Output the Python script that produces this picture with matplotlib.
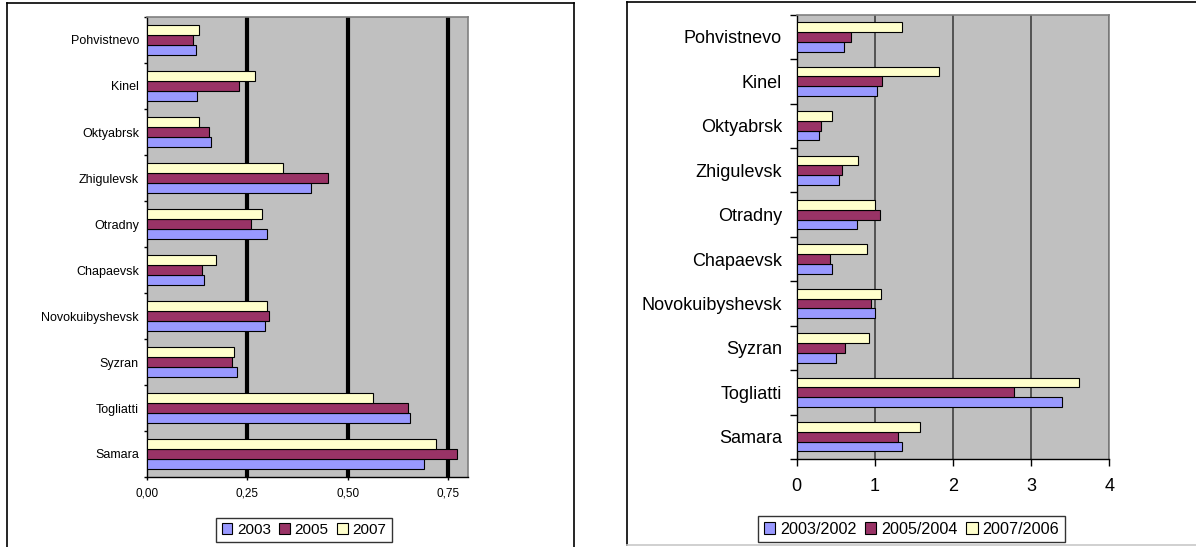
import numpy as np
import matplotlib
matplotlib.use('Agg')
import matplotlib.pyplot as plt
from matplotlib.patches import Patch
from matplotlib.lines import Line2D

plt.rcParams['font.family'] = ['Liberation Sans', 'DejaVu Sans']

# cities from bottom to top
cities = ['Samara', 'Togliatti', 'Syzran', 'Novokuibyshevsk', 'Chapaevsk',
          'Otradny', 'Zhigulevsk', 'Oktyabrsk', 'Kinel', 'Pohvistnevo']

# left chart - shares by year
v2003 = [0.690, 0.656, 0.224, 0.293, 0.143, 0.298, 0.408, 0.159, 0.124, 0.121]
v2005 = [0.773, 0.650, 0.211, 0.303, 0.138, 0.259, 0.451, 0.154, 0.229, 0.115]
v2007 = [0.720, 0.563, 0.216, 0.298, 0.173, 0.286, 0.338, 0.129, 0.268, 0.129]
left_labels = ['2003', '2005', '2007']
left_ticks = [0, 0.25, 0.5, 0.75]
left_ticklabels = ['0,00', '0,25', '0,50', '0,75']

# right chart - year on year ratios
r0302 = [1.343, 3.399, 0.507, 1.006, 0.456, 0.768, 0.545, 0.281, 1.032, 0.605]
r0504 = [1.296, 2.777, 0.618, 0.955, 0.430, 1.062, 0.584, 0.307, 1.091, 0.695]
r0706 = [1.582, 3.616, 0.930, 1.075, 0.900, 1.002, 0.780, 0.456, 1.821, 1.343]
right_labels = ['2003/2002', '2005/2004', '2007/2006']
right_ticks = [0, 1, 2, 3, 4]

colors = ['#9999FF', '#993366', '#FFFFCC']
W, H = 1196, 547

fig = plt.figure(figsize=(W / 100, H / 100), dpi=100)

# chart frames
fig.add_artist(Line2D([7 / W, 7 / W], [0, 1 - 3 / H], color='black', lw=1.2))
fig.add_artist(Line2D([7 / W, 574 / W], [1 - 3 / H, 1 - 3 / H], color='black', lw=1.2))
fig.add_artist(Line2D([574 / W, 574 / W], [0, 1 - 3 / H], color='black', lw=1.2))
fig.add_artist(Line2D([627 / W, 627 / W], [1 - 545 / H, 1 - 2 / H], color='black', lw=1.2))
fig.add_artist(Line2D([627 / W, 1], [1 - 2 / H, 1 - 2 / H], color='black', lw=1.2))
fig.add_artist(Line2D([627 / W, 1], [1 - 545 / H, 1 - 545 / H], color='#c8c8c8', lw=1.2))


def draw(ax, series, xlim, ticks, ticklabels, grid_lw, grid_color, fs, tfs, lpad, tpad, ticklen):
    y = np.arange(len(cities))
    h = 0.22
    offs = [-h, 0, h]
    for vals, c, o in zip(series, colors, offs):
        ax.barh(y + o, vals, height=h, color=c, edgecolor='black', linewidth=0.8, zorder=3)
    for t in ticks[1:]:
        ax.axvline(t, color=grid_color, lw=grid_lw, zorder=1)
    ax.set_facecolor('#C0C0C0')
    ax.set_xlim(*xlim)
    ax.set_ylim(-0.5, len(cities) - 0.5)
    ax.set_xticks(ticks)
    ax.set_xticklabels(ticklabels, fontsize=tfs)
    ax.set_yticks(np.arange(len(cities) + 1) - 0.5)
    ax.set_yticklabels([])
    ax.set_yticks(y, minor=True)
    ax.set_yticklabels(cities, minor=True, fontsize=fs)
    ax.tick_params(axis='y', which='minor', length=0, pad=lpad)
    ax.tick_params(axis='y', which='major', length=ticklen, width=1, direction='out')
    ax.tick_params(axis='x', length=ticklen, width=1, direction='out', pad=tpad)
    for s in ['top', 'right']:
        ax.spines[s].set_color('#808080')
        ax.spines[s].set_linewidth(1.2)
    for s in ['left', 'bottom']:
        ax.spines[s].set_color('black')
        ax.spines[s].set_linewidth(1)


ax1 = fig.add_axes([147 / W, 1 - 477 / H, (468 - 147) / W, (477 - 17) / H])
draw(ax1, [v2003, v2005, v2007], (0, 0.8), left_ticks, left_ticklabels,
     3.0, 'black', 9, 8.5, 5.8, 5, 2.5)

ax2 = fig.add_axes([796.7 / W, 1 - 459 / H, (1109.3 - 796.7) / W, (459 - 14.7) / H])
draw(ax2, [r0302, r0504, r0706], (0, 4), right_ticks, [str(t) for t in right_ticks],
     1.2, '#404040', 13, 13, 10.5, 8.5, 5)


def legend(labels, cx, cy, fs):
    handles = [Patch(facecolor=c, edgecolor='black', linewidth=0.8) for c in colors]
    lg = fig.legend(handles, labels, loc='center', bbox_to_anchor=(cx / W, 1 - cy / H),
                    ncol=3, fontsize=fs, frameon=True, fancybox=False,
                    handlelength=0.7, handleheight=0.7, handletextpad=0.3,
                    columnspacing=0.55, borderpad=0.35, borderaxespad=0)
    lg.get_frame().set_edgecolor('black')
    lg.get_frame().set_linewidth(1)


legend(left_labels, 304, 530, 11)
legend(right_labels, 911.5, 529, 11.6)

fig.savefig('out.png', dpi=100)
